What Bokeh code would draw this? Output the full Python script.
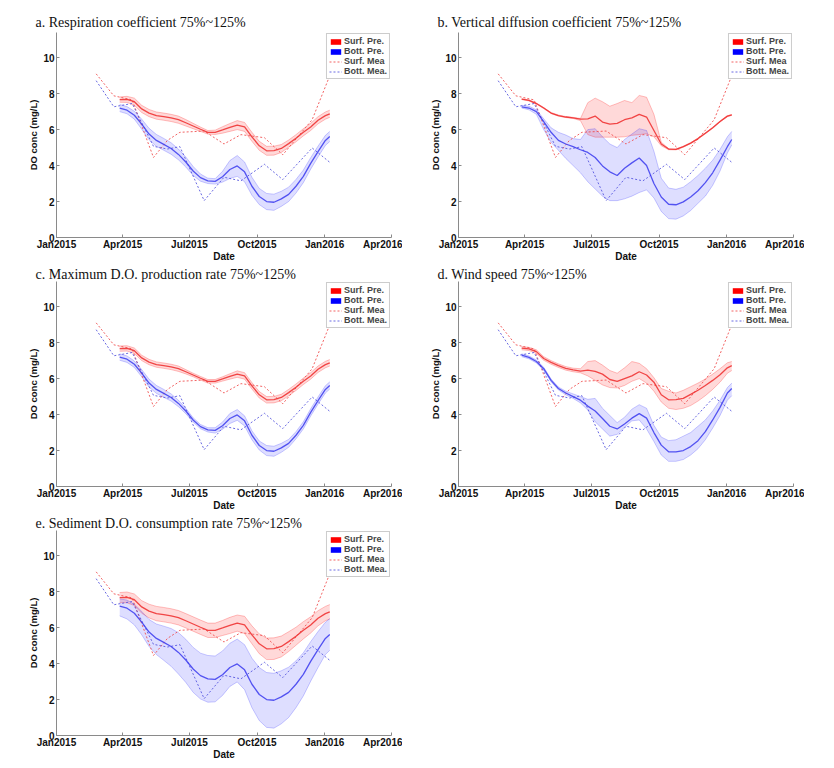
import pandas as pd
from datetime import datetime
from bokeh.plotting import figure
from bokeh.models import (Range1d, FixedTicker, DatetimeTickFormatter, Legend,
                          LegendItem, Title)
from bokeh.layouts import column, row
from bokeh.embed import file_html
from bokeh.resources import INLINE

# ---------------- measured data (same in every panel) ----------------
mea_dates = ["2015-02-24", "2015-03-20", "2015-04-14", "2015-05-13", "2015-06-01",
             "2015-06-18", "2015-07-21", "2015-08-17", "2015-09-09", "2015-10-11",
             "2015-11-05", "2015-12-15", "2016-01-08"]
surf_mea = [9.1, 7.88, 7.65, 4.45, 5.4, 5.85, 5.92, 5.2, 5.72, 5.55, 4.6, 6.55, 9.0]
bott_mea = [8.72, 7.27, 7.45, 5.07, 4.92, 5.05, 2.05, 3.35, 3.15, 4.07, 3.22, 4.98, 4.18]

# ---------------- model prediction dates ----------------
pre_dates = ["2015-03-28", "2015-04-07", "2015-04-17", "2015-04-27", "2015-05-07",
             "2015-05-17", "2015-05-27", "2015-06-06", "2015-06-16", "2015-06-26",
             "2015-07-06", "2015-07-16", "2015-07-26", "2015-08-05", "2015-08-15",
             "2015-08-25", "2015-09-04", "2015-09-14", "2015-09-24", "2015-10-04",
             "2015-10-14", "2015-10-24", "2015-11-03", "2015-11-13", "2015-11-23",
             "2015-12-03", "2015-12-13", "2015-12-23", "2016-01-02", "2016-01-08"]

# base predictions (panels a, c, e)
surf_pre = [7.67, 7.68, 7.55, 7.15, 6.92, 6.78, 6.72, 6.65, 6.55, 6.38, 6.2, 6.02, 5.85, 5.85,
            5.98, 6.12, 6.25, 6.15, 5.6, 5.1, 4.82, 4.83, 4.95, 5.22, 5.52, 5.85, 6.15, 6.52,
            6.78, 6.88]
bott_pre = [7.2, 7.08, 6.8, 6.3, 5.75, 5.4, 5.18, 4.95, 4.62, 4.2, 3.7, 3.33, 3.15, 3.12,
            3.38, 3.78, 3.98, 3.65, 2.85, 2.28, 2.0, 1.96, 2.15, 2.4, 2.85, 3.4, 4.12, 4.78,
            5.4, 5.62]

# band half-widths (75%~125%)
a_surf_spread = [0.15, 0.17, 0.2, 0.2, 0.2, 0.2, 0.2, 0.2, 0.2, 0.18, 0.15, 0.12, 0.1, 0.12,
                 0.18, 0.22, 0.25, 0.25, 0.25, 0.25, 0.25, 0.25, 0.22, 0.2, 0.2, 0.2, 0.2,
                 0.2, 0.2, 0.2]
a_bott_spread = [0.2, 0.2, 0.22, 0.28, 0.32, 0.33, 0.33, 0.32, 0.3, 0.28, 0.25, 0.2, 0.15,
                 0.15, 0.3, 0.5, 0.58, 0.55, 0.5, 0.45, 0.45, 0.45, 0.42, 0.4, 0.38, 0.35,
                 0.32, 0.3, 0.28, 0.28]
c_surf_spread = [0.15, 0.15, 0.15, 0.15, 0.15, 0.15, 0.15, 0.15, 0.15, 0.12, 0.1, 0.1, 0.1,
                 0.1, 0.12, 0.15, 0.18, 0.18, 0.18, 0.18, 0.18, 0.18, 0.18, 0.18, 0.18, 0.18,
                 0.18, 0.18, 0.18, 0.18]
c_bott_spread = [0.18, 0.18, 0.18, 0.2, 0.22, 0.22, 0.22, 0.2, 0.18, 0.15, 0.12, 0.12, 0.12,
                 0.15, 0.2, 0.28, 0.3, 0.28, 0.25, 0.25, 0.28, 0.28, 0.25, 0.22, 0.2, 0.2,
                 0.2, 0.2, 0.2, 0.2]
e_surf_spread = [0.28, 0.3, 0.32, 0.35, 0.38, 0.4, 0.4, 0.4, 0.4, 0.4, 0.4, 0.4, 0.4, 0.4,
                 0.42, 0.45, 0.45, 0.48, 0.5, 0.55, 0.6, 0.6, 0.58, 0.55, 0.5, 0.48, 0.45,
                 0.42, 0.4, 0.4]
e_bott_up = [0.4, 0.45, 0.5, 0.6, 0.7, 0.8, 0.9, 1.0, 1.1, 1.15, 1.2, 1.25, 1.3, 1.3, 1.32,
             1.35, 1.38, 1.4, 1.45, 1.5, 1.5, 1.5, 1.45, 1.4, 1.3, 1.2, 1.1, 1.0, 0.9, 0.88]
e_bott_dn = [0.55, 0.6, 0.65, 0.7, 0.8, 0.9, 1.0, 1.1, 1.2, 1.25, 1.3, 1.3, 1.3, 1.25, 1.15,
             1.05, 1.0, 1.1, 1.3, 1.45, 1.55, 1.55, 1.5, 1.4, 1.3, 1.2, 1.1, 1.0, 0.9, 0.88]

# panel b: vertical diffusion coefficient
b_surf_pre = [7.7, 7.62, 7.45, 7.2, 6.92, 6.78, 6.7, 6.65, 6.58, 6.6, 6.75, 6.42, 6.3, 6.35,
              6.55, 6.65, 6.85, 6.7, 5.95, 5.2, 4.92, 4.9, 5.05, 5.25, 5.5, 5.8, 6.1, 6.45,
              6.75, 6.82]
b_surf_hi = [7.72, 7.65, 7.48, 7.23, 6.95, 6.81, 6.73, 6.68, 6.62, 7.5, 7.75, 7.55, 7.3, 7.45,
             7.62, 7.5, 7.9, 7.8, 6.85, 5.3, 4.95, 4.92, 5.07, 5.27, 5.52, 5.82, 6.12, 6.47,
             6.77, 6.84]
b_surf_lo = [7.67, 7.59, 7.42, 7.17, 6.89, 6.75, 6.67, 6.62, 6.5, 5.72, 5.58, 5.58, 5.58, 5.58,
             5.6, 5.68, 5.72, 5.77, 5.6, 5.1, 4.88, 4.87, 5.02, 5.22, 5.47, 5.77, 6.07, 6.42,
             6.72, 6.79]
b_bott_pre = [7.27, 7.2, 7.0, 6.45, 5.85, 5.4, 5.2, 5.05, 4.88, 4.73, 4.45, 3.98, 3.65, 3.45,
              3.85, 4.15, 4.42, 4.0, 3.0, 2.25, 1.85, 1.82, 1.98, 2.25, 2.6, 3.05, 3.6, 4.3,
              5.05, 5.45]
b_bott_hi = [7.35, 7.3, 7.1, 6.6, 6.1, 5.85, 5.7, 5.5, 5.45, 6.0, 6.05, 5.6, 5.2, 5.0, 5.45,
             5.75, 6.05, 5.95, 4.8, 3.3, 2.75, 2.68, 2.8, 3.1, 3.45, 3.85, 4.3, 4.9, 5.6, 5.9]
b_bott_lo = [7.2, 7.1, 6.85, 6.0, 5.3, 4.85, 4.4, 4.0, 3.6, 3.1, 2.7, 2.3, 2.05, 2.05, 2.15,
             2.3, 2.5, 2.65, 2.2, 1.45, 1.05, 1.02, 1.2, 1.5, 1.9, 2.3, 2.9, 3.7, 4.7, 5.15]

# panel d: wind speed
d_surf_pre = [7.69, 7.65, 7.5, 7.12, 6.9, 6.72, 6.57, 6.48, 6.42, 6.47, 6.4, 6.25, 5.95, 5.85,
              6.0, 6.15, 6.38, 6.2, 5.8, 5.1, 4.82, 4.83, 4.9, 5.12, 5.35, 5.62, 5.9, 6.22,
              6.6, 6.72]
d_surf_hi = [7.78, 7.74, 7.6, 7.22, 7.0, 6.82, 6.67, 6.58, 6.55, 6.95, 7.0, 6.75, 6.45, 6.3,
             6.6, 6.95, 6.85, 6.55, 6.05, 5.45, 5.3, 5.2, 5.35, 5.55, 5.75, 5.98, 6.25, 6.55,
             6.88, 6.95]
d_surf_lo = [7.6, 7.56, 7.4, 7.02, 6.8, 6.62, 6.47, 6.38, 6.32, 6.15, 5.9, 5.65, 5.5, 5.48,
             5.62, 5.85, 6.0, 5.75, 5.3, 4.7, 4.35, 4.28, 4.35, 4.5, 4.75, 5.05, 5.4, 5.8,
             6.3, 6.45]
d_bott_pre = [7.3, 7.18, 6.95, 6.55, 5.9, 5.45, 5.2, 5.0, 4.8, 4.47, 4.2, 3.78, 3.35, 3.2,
              3.48, 3.8, 4.05, 3.8, 3.0, 2.3, 1.93, 1.92, 2.0, 2.22, 2.55, 3.05, 3.7, 4.4,
              5.2, 5.45]
d_bott_hi = [7.38, 7.26, 7.03, 6.63, 5.98, 5.53, 5.3, 5.15, 5.0, 4.85, 4.9, 4.35, 3.95, 3.55,
             3.85, 4.3, 4.55, 4.35, 3.4, 2.75, 2.55, 2.6, 2.8, 3.0, 3.35, 3.7, 4.2, 4.8, 5.5,
             5.75]
d_bott_lo = [7.22, 7.1, 6.87, 6.47, 5.82, 5.37, 5.1, 4.9, 4.65, 4.25, 3.6, 3.2, 2.8, 2.9, 3.3,
             3.65, 3.7, 3.2, 2.5, 1.75, 1.4, 1.4, 1.5, 1.75, 2.1, 2.6, 3.25, 3.95, 4.8, 5.05]

titles = ["a. Respiration coefficient 75%~125%",
          "b. Vertical diffusion coefficient 75%~125%",
          "c. Maximum D.O. production rate 75%~125%",
          "d. Wind speed 75%~125%",
          "e. Sediment D.O. consumption rate 75%~125%"]
tick_dates = ["2015-01-01", "2015-04-01", "2015-07-01", "2015-10-01", "2016-01-01", "2016-04-01"]
y_ticks = [0, 2, 4, 6, 8, 10]
legend_labels = ["Surf. Pre.", "Bott. Pre.", "Surf. Mea", "Bott. Mea."]


def band(mid, up, dn=None):
    dn = up if dn is None else dn
    return [m - d for m, d in zip(mid, dn)], [m + u for m, u in zip(mid, up)]


FRAME_H = 207
BOTTOM = 25
SANS = "Liberation Sans"
AXIS_COL = "#8a8a8a"
mdates = pd.to_datetime(mea_dates)
pdates = pd.to_datetime(pre_dates)
tick_ms = [pd.Timestamp(d).value / 1e6 for d in tick_dates]
X0, X1 = datetime(2015, 1, 1), datetime(2016, 4, 1)
OFF_X = datetime(2010, 1, 1)   # legend-proxy location, outside the view
OFF_X2 = datetime(2010, 1, 2)


def make_panel(title, s_lo, s_mid, s_hi, b_lo, b_mid, b_hi, top, title_standoff):
    p = figure(width=402, height=top + FRAME_H + BOTTOM, x_axis_type="datetime",
               x_range=Range1d(X0, X1), y_range=Range1d(0, 11.4),
               output_backend="svg", toolbar_location=None,
               min_border_left=56, min_border_right=11, min_border_top=top,
               min_border_bottom=BOTTOM)
    p.outline_line_color = None
    p.xgrid.visible = False
    p.ygrid.visible = False

    # bands
    p.varea(x=pdates, y1=s_lo, y2=s_hi, fill_color="#ff0000", fill_alpha=0.15)
    p.varea(x=pdates, y1=b_lo, y2=b_hi, fill_color="#0000ff", fill_alpha=0.13)
    for yy in (s_lo, s_hi):
        p.line(pdates, yy, line_color="#ff0000", line_alpha=0.3, line_width=0.8)
    for yy in (b_lo, b_hi):
        p.line(pdates, yy, line_color="#0000ff", line_alpha=0.25, line_width=0.8)

    # measured
    r_sm = p.line(mdates, surf_mea, line_color="#f04848", line_alpha=0.85, line_width=1,
                  line_dash="2 2")
    r_bm = p.line(mdates, bott_mea, line_color="#5050dd", line_alpha=0.85, line_width=1,
                  line_dash="2 2")
    # predictions
    p.line(pdates, s_mid, line_color="#ee2a2a", line_alpha=0.85, line_width=1.3)
    p.line(pdates, b_mid, line_color="#3a3aee", line_alpha=0.85, line_width=1.3)

    # legend proxies (placed outside the visible x range)
    r_sp = p.quad(left=[OFF_X], right=[OFF_X2], bottom=[0], top=[1],
                  fill_color="#ff0000", line_color=None)
    r_bp = p.quad(left=[OFF_X], right=[OFF_X2], bottom=[0], top=[1],
                  fill_color="#0000ff", line_color=None)
    items = [LegendItem(label=l, renderers=[r]) for l, r in
             zip(legend_labels, [r_sp, r_bp, r_sm, r_bm])]
    leg = Legend(items=items, location="top_right", label_text_font=SANS,
                 label_text_font_style="bold", label_text_font_size="9px",
                 glyph_width=13, glyph_height=7, label_height=7, spacing=0, padding=2,
                 margin=1, label_standoff=2, border_line_color="#999999",
                 border_line_width=0.8, background_fill_alpha=1.0)
    p.add_layout(leg, "center")

    # axes
    p.xaxis.ticker = FixedTicker(ticks=tick_ms)
    fmt = "%b%Y"
    p.xaxis.formatter = DatetimeTickFormatter(
        microseconds=fmt, milliseconds=fmt, seconds=fmt, minsec=fmt, minutes=fmt,
        hourmin=fmt, hours=fmt, days=fmt, months=fmt, years=fmt)
    p.yaxis.ticker = FixedTicker(ticks=y_ticks)
    p.xaxis.axis_label = "Date"
    p.yaxis.axis_label = "DO conc (mg/L)"
    for ax in (p.xaxis[0], p.yaxis[0]):
        ax.axis_line_color = AXIS_COL
        ax.major_tick_line_color = AXIS_COL
        ax.major_tick_in = 3
        ax.major_tick_out = 0
        ax.minor_tick_line_color = None
        ax.major_label_text_font = SANS
        ax.major_label_text_font_style = "bold"
        ax.major_label_text_font_size = "10px"
        ax.major_label_text_color = "#111111"
        ax.axis_label_text_font = SANS
        ax.axis_label_text_font_style = "bold"
        ax.axis_label_text_color = "#111111"
        ax.major_label_standoff = 2
        ax.axis_label_standoff = 1
    p.xaxis.axis_label_text_font_size = "10px"
    p.yaxis.axis_label_text_font_size = "9.5px"
    p.xaxis.major_label_standoff = 1
    p.xaxis.axis_label_standoff = -2

    p.add_layout(Title(text=title, align="left", offset=-21, standoff=title_standoff,
                       text_font="Liberation Serif", text_font_size="14px",
                       text_font_style="normal", text_color="#111111"), "above")
    return p


a_s = band(surf_pre, a_surf_spread)
a_b = band(bott_pre, a_bott_spread)
c_s = band(surf_pre, c_surf_spread)
c_b = band(bott_pre, c_bott_spread)
e_s = band(surf_pre, e_surf_spread)
e_b = band(bott_pre, e_bott_up, e_bott_dn)

pa = make_panel(titles[0], a_s[0], surf_pre, a_s[1], a_b[0], bott_pre, a_b[1], 32, 6)
pb = make_panel(titles[1], b_surf_lo, b_surf_pre, b_surf_hi, b_bott_lo, b_bott_pre,
                b_bott_hi, 32, 6)
pc = make_panel(titles[2], c_s[0], surf_pre, c_s[1], c_b[0], bott_pre, c_b[1], 17, 0)
pd_ = make_panel(titles[3], d_surf_lo, d_surf_pre, d_surf_hi, d_bott_lo, d_bott_pre,
                 d_bott_hi, 17, 0)
pe = make_panel(titles[4], e_s[0], surf_pre, e_s[1], e_b[0], bott_pre, e_b[1], 17, 0)

layout = column(row(pa, pb), row(pc, pd_), row(pe))
open("out.html", "w").write(file_html(layout, INLINE))
